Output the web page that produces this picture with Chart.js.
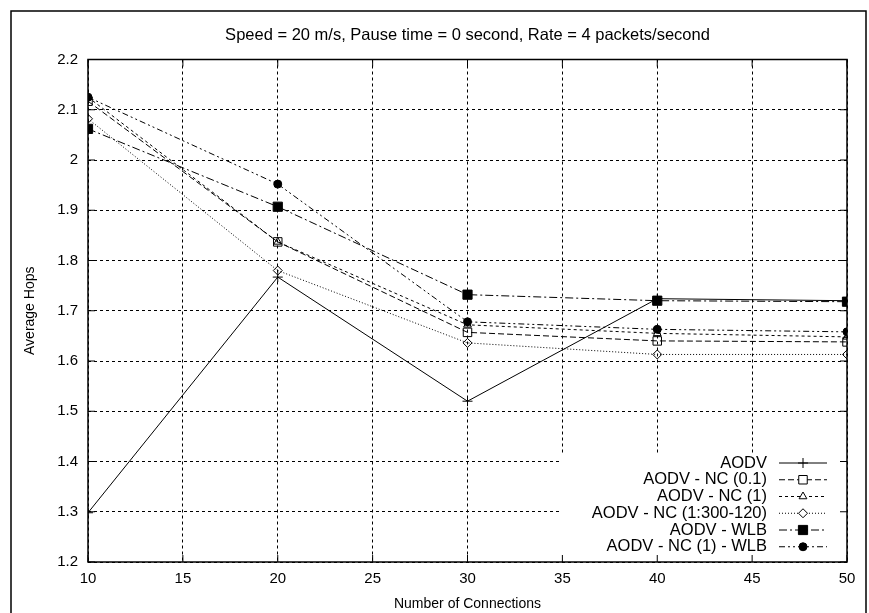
<!DOCTYPE html>
<html lang="en">
<head>
  <meta charset="UTF-8">
  <title>Average Hops vs Number of Connections</title>
  <style>
    html, body { margin: 0; padding: 0; background: #fff; }
    #wrap { width: 869px; height: 613px; }
  </style>
</head>
<body>
  <div id="wrap"><canvas id="hopsChart" width="869" height="613"></canvas></div>

  <script src="https://cdn.jsdelivr.net/npm/chart.js"></script>
  <script>
    // values
    const connections = [10, 20, 30, 40, 50];
    const seriesNames = ['AODV', 'AODV - NC (0.1)', 'AODV - NC (1)', 'AODV - NC (1:300-120)', 'AODV - WLB', 'AODV - NC (1) - WLB'];
    const aodv     = [1.298, 1.767, 1.520, 1.724, 1.720];
    const nc01     = [2.117, 1.837, 1.657, 1.640, 1.638];
    const nc1      = [2.125, 1.837, 1.672, 1.655, 1.648];
    const ncSched  = [2.082, 1.780, 1.636, 1.613, 1.613];
    const wlb      = [2.062, 1.907, 1.732, 1.720, 1.718];
    const nc1Wlb   = [2.125, 1.952, 1.678, 1.663, 1.658];
    const xTicks = [10, 15, 20, 25, 30, 35, 40, 45, 50];
    const yTicks = [1.2, 1.3, 1.4, 1.5, 1.6, 1.7, 1.8, 1.9, 2.0, 2.1, 2.2];
    const chartTitle = 'Speed = 20 m/s, Pause time = 0 second, Rate = 4 packets/second';

    const allSeries = [aodv, nc01, nc1, ncSched, wlb, nc1Wlb];

    // gnuplot-ish line types
    const looks = [
      { dash: [],                 point: 'cross',    radius: 5,   filled: false },
      { dash: [6, 3],             point: 'rect',     radius: 6,   filled: false },
      { dash: [3, 3],             point: 'triangle', radius: 4.5, filled: false },
      { dash: [1, 2],             point: 'rectRot',  radius: 4.5, filled: false },
      { dash: [8, 3, 2, 3],       point: 'rect',     radius: 6.5, filled: true },
      { dash: [6, 3, 2, 3, 2, 3], point: 'circle',   radius: 4,   filled: true }
    ];

    const FONT = "'Liberation Sans', Arial, sans-serif";
    Chart.defaults.font.family = FONT;
    Chart.defaults.color = '#000';

    const datasets = allSeries.map((vals, i) => ({
      label: seriesNames[i],
      data: connections.map((c, j) => ({ x: c, y: vals[j] })),
      borderColor: '#000',
      borderWidth: 1,
      borderDash: looks[i].dash,
      pointStyle: looks[i].point,
      pointRadius: looks[i].radius,
      pointBorderColor: '#000',
      pointBorderWidth: 1,
      pointBackgroundColor: looks[i].filled ? '#000' : 'rgba(0,0,0,0)',
      showLine: true,
      fill: false,
      tension: 0
    }));

    // title over the plot, key box, plot frame and inward ticks like gnuplot
    const framePlugin = {
      id: 'gnuFrame',
      afterDatasetsDraw(chart) {
        const ctx = chart.ctx;
        const area = chart.chartArea;

        ctx.save();
        ctx.fillStyle = '#000';
        ctx.font = '16.5px ' + FONT;
        ctx.textAlign = 'center';
        ctx.textBaseline = 'middle';
        ctx.fillText(chartTitle, (area.left + area.right) / 2, 35);
        ctx.restore();

        // key
        ctx.save();
        ctx.fillStyle = '#fff';
        ctx.fillRect(560, 455, area.right - 560, area.bottom - 455);
        ctx.font = '16.5px ' + FONT;
        ctx.textAlign = 'right';
        ctx.textBaseline = 'middle';
        seriesNames.forEach((name, i) => {
          const y = 463 + i * 16.75;
          ctx.fillStyle = '#000';
          ctx.fillText(name, 767, y);
          ctx.strokeStyle = '#000';
          ctx.lineWidth = 1;
          ctx.setLineDash(looks[i].dash);
          ctx.beginPath();
          ctx.moveTo(779, y);
          ctx.lineTo(827, y);
          ctx.stroke();
          ctx.setLineDash([]);
          ctx.fillStyle = looks[i].filled ? '#000' : '#fff';
          Chart.helpers.drawPoint(ctx, { pointStyle: looks[i].point, radius: looks[i].radius, rotation: 0, borderWidth: 1 }, 803, y);
        });
        ctx.restore();

        // frame + ticks
        ctx.save();
        ctx.strokeStyle = '#000';
        ctx.lineWidth = 1.5;
        ctx.strokeRect(area.left, area.top, area.right - area.left, area.bottom - area.top);
        ctx.lineWidth = 1;
        const tl = 7;
        chart.scales.x.ticks.forEach(t => {
          const px = chart.scales.x.getPixelForValue(t.value);
          ctx.beginPath();
          ctx.moveTo(px, area.bottom); ctx.lineTo(px, area.bottom - tl);
          ctx.moveTo(px, area.top); ctx.lineTo(px, area.top + tl);
          ctx.stroke();
        });
        chart.scales.y.ticks.forEach(t => {
          const py = chart.scales.y.getPixelForValue(t.value);
          ctx.beginPath();
          ctx.moveTo(area.left, py); ctx.lineTo(area.left + tl, py);
          ctx.moveTo(area.right, py); ctx.lineTo(area.right - tl, py);
          ctx.stroke();
        });

        // outer picture border
        ctx.lineWidth = 1.5;
        ctx.beginPath();
        ctx.moveTo(11, 640); ctx.lineTo(11, 11); ctx.lineTo(866, 11); ctx.lineTo(866, 640);
        ctx.stroke();
        ctx.restore();
      }
    };

    new Chart(document.getElementById('hopsChart'), {
      type: 'scatter',
      data: { datasets },
      options: {
        responsive: false,
        animation: false,
        layout: { padding: { left: 0, right: 22, top: 59.5, bottom: 0 } },
        plugins: {
          legend: { display: false },
          tooltip: { enabled: false },
          title: { display: false }
        },
        scales: {
          x: {
            type: 'linear',
            min: xTicks[0],
            max: xTicks[xTicks.length - 1],
            afterBuildTicks: s => { s.ticks = xTicks.map(v => ({ value: v })); },
            afterFit: s => { s.height = 51; },
            ticks: { font: { size: 15 }, padding: 8, color: '#000' },
            grid: { color: '#000', lineWidth: 1, drawTicks: false },
            border: { display: false, dash: [3, 3] },
            title: { display: true, text: 'Number of Connections', font: { size: 14 }, color: '#000', padding: { top: 0, bottom: 0 } }
          },
          y: {
            min: yTicks[0],
            max: yTicks[yTicks.length - 1],
            afterBuildTicks: s => { s.ticks = yTicks.map(v => ({ value: v })); },
            afterFit: s => { s.width = 88; },
            ticks: {
              font: { size: 15 },
              padding: 10,
              color: '#000',
              callback: v => String(Number(v.toFixed(1)))
            },
            grid: { color: '#000', lineWidth: 1, drawTicks: false },
            border: { display: false, dash: [3, 3] },
            title: { display: true, text: 'Average Hops', font: { size: 14 }, color: '#000', padding: { top: 22, bottom: 0 } }
          }
        }
      },
      plugins: [framePlugin]
    });
  </script>
</body>
</html>
